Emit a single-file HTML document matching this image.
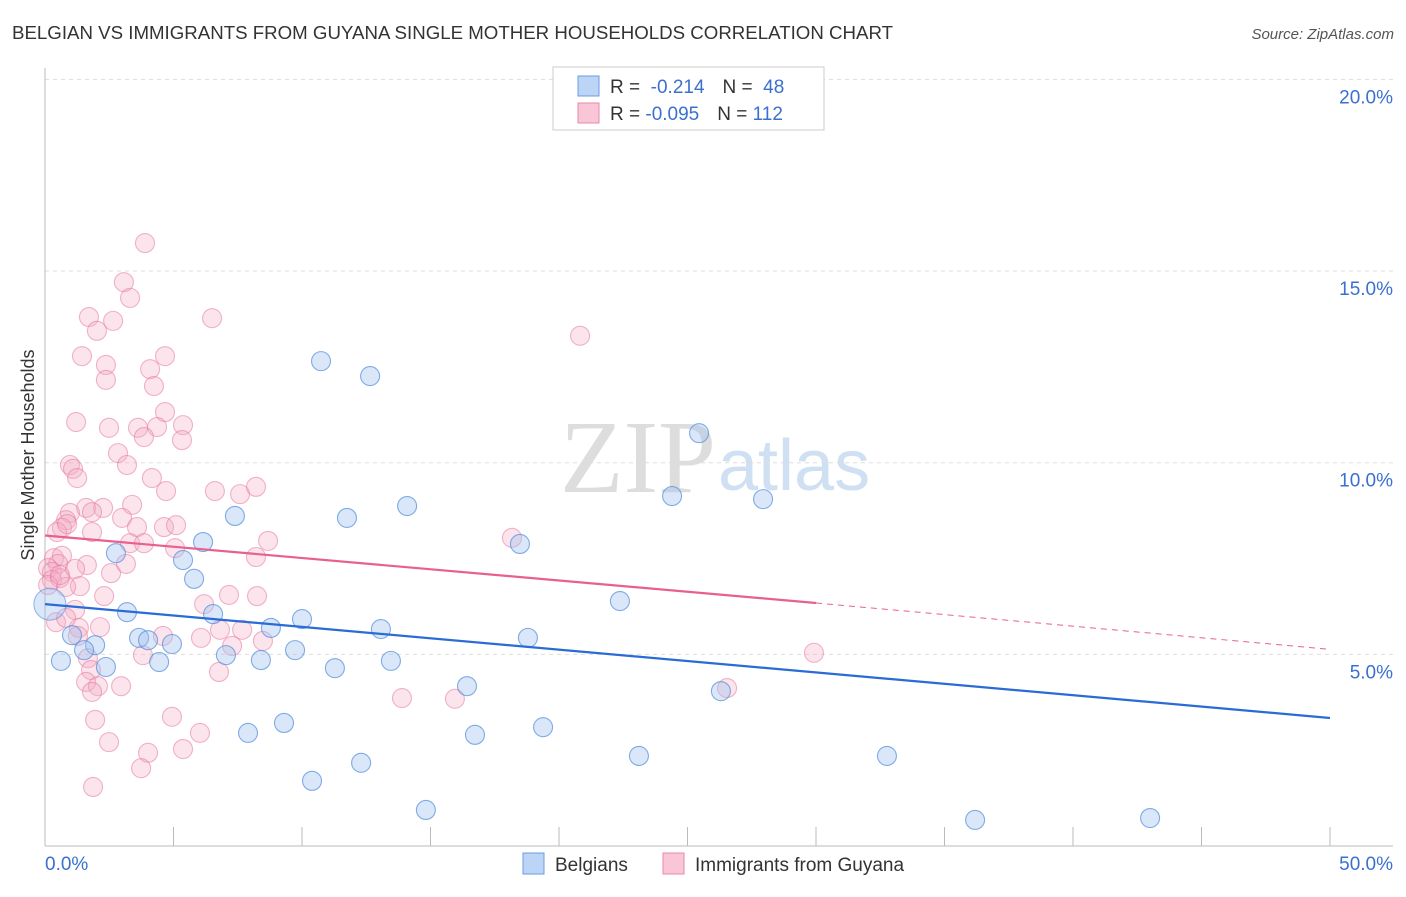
<!DOCTYPE html>
<html><head><meta charset="utf-8"><style>
body{margin:0;background:#fff;font-family:"Liberation Sans",sans-serif;}
</style></head><body>
<svg id="chart" width="1406" height="892" xmlns="http://www.w3.org/2000/svg">
<text x="12" y="39" font-size="18" fill="#333" textLength="881" lengthAdjust="spacingAndGlyphs">BELGIAN VS IMMIGRANTS FROM GUYANA SINGLE MOTHER HOUSEHOLDS CORRELATION CHART</text>
<text x="1394" y="39" font-size="15" fill="#555" font-style="italic" text-anchor="end">Source: ZipAtlas.com</text>
<text x="716" y="492" font-size="104" font-family="Liberation Serif,serif" fill="#ddd" text-anchor="end">ZIP</text>
<text x="718" y="490" font-size="72" fill="#cfe0f3">atlas</text>
<g id="grid"></g>
<g id="axes"></g>
<g id="marks"></g>
<text transform="translate(34,455) rotate(-90)" font-size="18" fill="#333" text-anchor="middle">Single Mother Households</text>
<g>
<rect x="553" y="67" width="271" height="63" fill="#fff" stroke="#ccc"/>
<rect x="578" y="76" width="21" height="20" fill="#bcd4f5" stroke="#6a9be0"/>
<rect x="578" y="103" width="21" height="20" fill="#f8c6d6" stroke="#e88aa8"/>
<text x="610" y="93" font-size="19" fill="#333">R = <tspan fill="#3a70d0">&#160;-0.214</tspan><tspan dx="18">N = </tspan><tspan fill="#3a70d0">&#160;48</tspan></text>
<text x="610" y="120" font-size="19" fill="#333">R = <tspan fill="#3a70d0">-0.095</tspan><tspan dx="18">N = </tspan><tspan fill="#3a70d0">112</tspan></text>
</g>
<g>
<rect x="523" y="853" width="21" height="21" fill="#bcd4f5" stroke="#6a9be0"/>
<text x="555" y="871" font-size="19" fill="#333">Belgians</text>
<rect x="663" y="853" width="21" height="21" fill="#f8c6d6" stroke="#e88aa8"/>
<text x="695" y="871" font-size="19" fill="#333">Immigrants from Guyana</text>
</g>
</svg>
<script>
const blueX=[10.74,12.65,25.45,24.4,27.94,14.09,11.75,7.39,18.48,6.15,2.76,5.37,5.8,22.37,3.19,6.54,10.0,8.79,13.07,18.79,1.05,1.95,3.66,4.01,4.94,1.52,9.73,7.04,0.62,4.44,8.4,2.37,11.28,13.46,16.42,26.3,9.3,7.9,19.38,16.73,23.11,32.76,12.3,10.39,14.82,36.19,43.0];
const blueY=[12.65,12.26,10.77,9.13,9.05,8.87,8.56,8.61,7.88,7.93,7.64,7.46,6.97,6.39,6.1,6.05,5.92,5.69,5.66,5.43,5.5,5.24,5.43,5.37,5.27,5.11,5.11,4.98,4.83,4.8,4.85,4.67,4.64,4.83,4.17,4.04,3.21,2.95,3.1,2.9,2.35,2.35,2.17,1.7,0.94,0.68,0.73];
const blueBigX=[0.19];
const blueBigY=[6.31];
const pinkX=[3.89,3.07,3.31,1.71,2.65,6.5,2.02,20.82,1.44,4.67,2.37,4.09,2.37,4.24,4.67,1.21,2.49,3.62,4.36,5.37,3.85,5.33,2.84,0.97,3.19,1.09,4.16,1.25,4.71,6.61,7.59,8.21,1.6,2.26,3.39,0.97,1.83,3.0,0.82,0.66,0.47,1.83,0.86,4.63,5.1,3.58,18.17,8.68,3.31,3.85,0.35,0.66,8.21,0.51,1.63,0.12,0.27,1.17,2.57,3.15,5.06,0.27,0.58,0.12,1.36,0.82,2.3,7.16,8.25,6.19,1.17,0.43,1.32,0.82,6.81,1.28,7.67,4.59,6.07,7.28,8.48,3.81,1.67,29.92,1.79,6.77,1.6,2.06,2.96,26.54,1.83,13.89,15.95,4.94,1.95,6.03,2.49,4.01,5.37,3.74,1.87,0.58,2.14];
const pinkY=[15.73,14.71,14.3,13.8,13.7,13.77,13.44,13.31,12.78,12.78,12.55,12.44,12.16,12.0,11.32,11.06,10.91,10.91,10.93,10.98,10.67,10.59,10.25,9.94,9.94,9.84,9.6,9.6,9.26,9.26,9.18,9.37,8.82,8.82,8.9,8.69,8.71,8.56,8.5,8.3,8.19,8.19,8.4,8.32,8.37,8.32,8.04,7.96,7.9,7.9,7.51,7.57,7.54,7.36,7.33,7.25,7.15,7.23,7.12,7.36,7.77,6.94,6.99,6.81,6.78,6.76,6.52,6.55,6.52,6.31,6.16,5.84,5.69,5.95,5.64,5.48,5.64,5.48,5.43,5.22,5.35,4.98,4.9,5.04,4.59,4.54,4.28,4.17,4.17,4.12,4.02,3.86,3.84,3.37,3.29,2.95,2.71,2.43,2.53,2.03,1.54,7.07,5.71];
const blueTrendX=[0,50];
const blueTrendY=[6.31,3.34];
const pinkTrendX=[0,30,50];
const pinkTrendY=[8.1,6.34,5.13];
const yTicks=[5,10,15,20];
const yTickLabels=["5.0%","10.0%","15.0%","20.0%"];
const xTicks=[0,5,10,15,20,25,30,35,40,45,50];

const NS="http://www.w3.org/2000/svg";
const sx=v=>45+v*25.7;
const sy=v=>846-v*38.33;
function mk(tag,attrs,parent){const e=document.createElementNS(NS,tag);for(const k in attrs)e.setAttribute(k,attrs[k]);parent.appendChild(e);return e;}
const grid=document.getElementById('grid'),axes=document.getElementById('axes'),marks=document.getElementById('marks');
yTicks.forEach((t,i)=>{
 const l=mk('line',{x1:45,x2:1393,y1:sy(t),y2:sy(t),stroke:'#ddd','stroke-dasharray':'4,4'},grid);
 
 
 const tx=mk('text',{x:1393,y:sy(t)+24,'font-size':19,fill:'#3a70d0','text-anchor':'end'},axes);
 tx.textContent=yTickLabels[i];
 
 
});
const ya=mk('line',{x1:45,x2:45,y1:68,y2:846,stroke:'#bbb'},axes);


const xa=mk('line',{x1:45,x2:1393,y1:846,y2:846,stroke:'#bbb'},axes);


xTicks.forEach(t=>{
 const l=mk('line',{x1:sx(t),x2:sx(t),y1:827,y2:846,stroke:'#bbb'},axes);
 
 
});
const xl0=mk('text',{x:45,y:870,'font-size':19,fill:'#3a70d0'},axes);xl0.textContent="0.0%";


const xl1=mk('text',{x:1393,y:870,'font-size':19,fill:'#3a70d0','text-anchor':'end'},axes);xl1.textContent="50.0%";



pinkX.forEach((x,i)=>{
 const c=mk('circle',{cx:sx(x),cy:sy(pinkY[i]),r:9.5,fill:'rgba(244,170,195,0.32)',stroke:'rgba(232,120,160,0.55)','stroke-width':1.1},marks);
 
 
});
blueX.forEach((x,i)=>{
 const c=mk('circle',{cx:sx(x),cy:sy(blueY[i]),r:9.5,fill:'rgba(160,195,240,0.4)',stroke:'rgba(80,140,220,0.7)','stroke-width':1.1},marks);
 
 
});
blueBigX.forEach((x,i)=>{
 const c=mk('circle',{cx:sx(x),cy:sy(blueBigY[i]),r:16,fill:'rgba(160,195,240,0.4)',stroke:'rgba(80,140,220,0.55)','stroke-width':1.1},marks);
 
 
});
const bt=mk('line',{x1:sx(blueTrendX[0]),y1:sy(blueTrendY[0]),x2:sx(blueTrendX[1]),y2:sy(blueTrendY[1]),stroke:'#2a6bd6','stroke-width':2.2},marks);


const pt=mk('line',{x1:sx(pinkTrendX[0]),y1:sy(pinkTrendY[0]),x2:sx(pinkTrendX[1]),y2:sy(pinkTrendY[1]),stroke:'#e8608e','stroke-width':2.2},marks);


const pd=mk('line',{x1:sx(pinkTrendX[1]),y1:sy(pinkTrendY[1]),x2:sx(pinkTrendX[2]),y2:sy(pinkTrendY[2]),stroke:'#e8608e','stroke-width':1,'stroke-dasharray':'6,5'},marks);


</script>
</body></html>
